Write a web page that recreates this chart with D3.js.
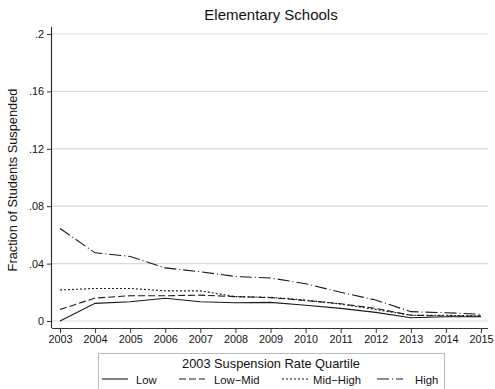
<!DOCTYPE html>
<html>
<head>
<meta charset="utf-8">
<script src="https://cdn.jsdelivr.net/npm/d3@7"></script>
<style>
  html, body { margin: 0; padding: 0; background: #fff; }
  text { font-family: "Liberation Sans", Arial, Helvetica, sans-serif; fill: #111; }
</style>
</head>
<body>
<svg id="chart" width="495" height="389"></svg>
<script>
// School years on the x axis
const years = [2003, 2004, 2005, 2006, 2007, 2008, 2009, 2010, 2011, 2012, 2013, 2014, 2015];

// Fraction of students suspended, by 2003 suspension-rate quartile
const lowValues     = [0.000, 0.0123, 0.0134, 0.0158, 0.0134, 0.0127, 0.0130, 0.0110, 0.0088, 0.0060, 0.0023, 0.0030, 0.0030];
const lowMidValues  = [0.008, 0.0160, 0.0176, 0.0176, 0.0180, 0.0170, 0.0163, 0.0143, 0.0120, 0.0088, 0.0040, 0.0035, 0.0035];
const midHighValues = [0.0216, 0.0227, 0.0227, 0.0210, 0.0210, 0.0170, 0.0165, 0.0146, 0.0118, 0.0080, 0.0040, 0.0040, 0.0035];
const highValues    = [0.0645, 0.0475, 0.0450, 0.0370, 0.0343, 0.0310, 0.0300, 0.0260, 0.0200, 0.0146, 0.0065, 0.0058, 0.0047];

const seriesNames = ["Low", "Low\u2212Mid", "Mid\u2212High", "High"];
const yTicks = [0, 0.04, 0.08, 0.12, 0.16, 0.2];
const yTickLabels = ["0", ".04", ".08", ".12", ".16", ".2"];

const series = [
  { name: seriesNames[0], values: lowValues,     dash: null },
  { name: seriesNames[1], values: lowMidValues,  dash: "7,3" },
  { name: seriesNames[2], values: midHighValues, dash: "2,2" },
  { name: seriesNames[3], values: highValues,    dash: "12,3,1,3" }
];

const svg = d3.select("#chart");
const plot = { left: 52, right: 488, top: 34, bottom: 321 };

const x = d3.scaleLinear().domain([2003, 2015]).range([60, 481]);
const y = d3.scaleLinear().domain([0, 0.2]).range([plot.bottom, plot.top]);

// Horizontal gridlines
svg.append("g")
  .selectAll("line")
  .data(yTicks)
  .join("line")
  .attr("x1", plot.left).attr("x2", plot.right)
  .attr("y1", d => y(d)).attr("y2", d => y(d))
  .attr("stroke", "#d9d9d9").attr("stroke-width", 1.2);

// Y axis
const yAxis = d3.axisLeft(y)
  .tickValues(yTicks)
  .tickFormat((d, i) => yTickLabels[i])
  .tickSize(5)
  .tickPadding(3);
const gy = svg.append("g")
  .attr("transform", `translate(${plot.left},0)`)
  .call(yAxis);
gy.select(".domain").attr("d", `M-0.5,${plot.top - 7}V${plot.bottom + 7}`).attr("stroke", "#333").attr("stroke-width", 1.2);
gy.selectAll(".tick line").attr("stroke", "#333");
gy.selectAll(".tick text").attr("font-size", 10.8).style("font-family", "Liberation Sans, Arial, sans-serif").attr("fill", "#111");

// X axis
const xAxis = d3.axisBottom(x)
  .tickValues(years)
  .tickFormat(d3.format("d"))
  .tickSize(5)
  .tickPadding(2);
const gx = svg.append("g")
  .attr("transform", `translate(0,${plot.bottom + 7})`)
  .call(xAxis);
gx.select(".domain").attr("d", `M${plot.left},0.5H${plot.right}`).attr("stroke", "#333").attr("stroke-width", 1.2);
gx.selectAll(".tick line").attr("stroke", "#333");
gx.selectAll(".tick text").attr("font-size", 10.8).style("font-family", "Liberation Sans, Arial, sans-serif").attr("fill", "#111");

// Series lines
const line = d3.line()
  .x((d, i) => x(years[i]))
  .y(d => y(d));

svg.append("g")
  .selectAll("path")
  .data(series)
  .join("path")
  .attr("d", d => line(d.values))
  .attr("fill", "none")
  .attr("stroke", "#1a1a1a")
  .attr("stroke-width", 1.1)
  .attr("stroke-dasharray", d => d.dash);

// Title
svg.append("text")
  .attr("x", 271).attr("y", 20)
  .attr("text-anchor", "middle")
  .attr("font-size", 15)
  .text("Elementary Schools");

// Y axis title
svg.append("text")
  .attr("transform", "translate(17,180) rotate(-90)")
  .attr("text-anchor", "middle")
  .attr("font-size", 12.8)
  .text("Fraction of Students Suspended");

// Legend
const legend = svg.append("g");
legend.append("rect")
  .attr("x", 98.5).attr("y", 353.5)
  .attr("width", 346).attr("height", 45)
  .attr("fill", "#fff").attr("stroke", "#bbb").attr("stroke-width", 1);
legend.append("text")
  .attr("x", 271).attr("y", 368)
  .attr("text-anchor", "middle")
  .attr("font-size", 12.8)
  .text("2003 Suspension Rate Quartile");

const legendX = [102, 179, 282, 377];
const legendTextX = [136, 214, 313, 415];
const items = legend.selectAll("g.item")
  .data(series)
  .join("g")
  .attr("class", "item");
items.append("line")
  .attr("x1", (d, i) => legendX[i]).attr("x2", (d, i) => legendX[i] + 26)
  .attr("y1", 379).attr("y2", 379)
  .attr("stroke", "#1a1a1a").attr("stroke-width", 1.1)
  .attr("stroke-dasharray", d => d.dash);
items.append("text")
  .attr("x", (d, i) => legendTextX[i]).attr("y", 384)
  .attr("font-size", 11.3)
  .text(d => d.name);
</script>
</body>
</html>
